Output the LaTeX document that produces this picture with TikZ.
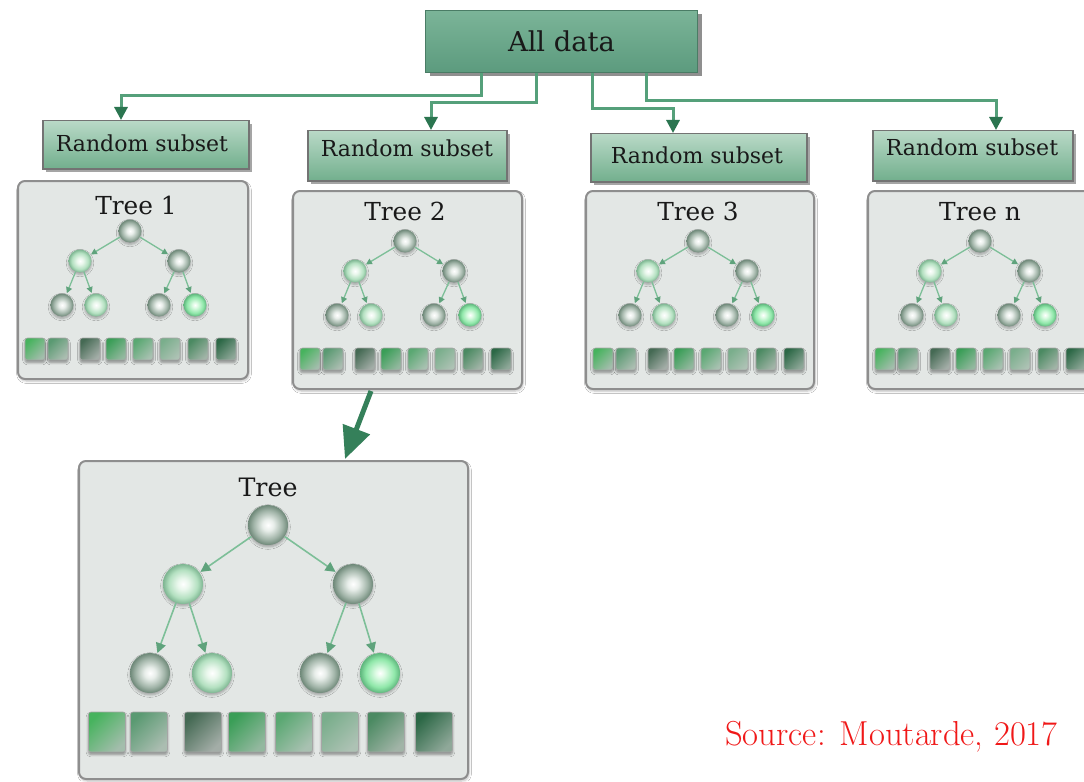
\documentclass[tikz,border=0pt]{standalone}
\usepackage{fontspec}
\newfontfamily\labelfont{DejaVu Serif}
\usetikzlibrary{arrows.meta,calc,shadows,shadows.blur}

\newlength\pxu \setlength\pxu{0.75pt}

% palette
\definecolor{linkgreen}{HTML}{55A07A}
\definecolor{tipgreen}{HTML}{2B7550}
\definecolor{bigarrow}{HTML}{35805A}
\definecolor{edgegreen}{HTML}{7DBF98}
\definecolor{edgetip}{HTML}{5FA37C}
\definecolor{alltop}{HTML}{7BB498}
\definecolor{allbot}{HTML}{5C9B7E}
\definecolor{rstop}{HTML}{B9D9C7}
\definecolor{rsbot}{HTML}{72AF8D}
\definecolor{boxfill}{HTML}{E3E7E5}
\definecolor{boxline}{HTML}{8E8E8E}
\definecolor{srcred}{HTML}{F01818}
% sphere shades
\definecolor{sgA}{HTML}{E8EEEA}
\definecolor{sgB}{HTML}{A2B5A9}
\definecolor{sgC}{HTML}{6E8878}
\definecolor{slA}{HTML}{E9F7EC}
\definecolor{slB}{HTML}{B3E0C0}
\definecolor{slC}{HTML}{7DB591}
\definecolor{sbA}{HTML}{DDFBE4}
\definecolor{sbB}{HTML}{8FE7A9}
\definecolor{sbC}{HTML}{5FB67D}
% leaf squares: top-left / bottom-right
\definecolor{sqa1}{HTML}{47B35E}\definecolor{sqb1}{HTML}{A3BDAC}
\definecolor{sqa2}{HTML}{5A9A72}\definecolor{sqb2}{HTML}{ABBDB1}
\definecolor{sqa3}{HTML}{456A54}\definecolor{sqb3}{HTML}{A3ADA7}
\definecolor{sqa4}{HTML}{3A9E57}\definecolor{sqb4}{HTML}{93B89F}
\definecolor{sqa5}{HTML}{5AA872}\definecolor{sqb5}{HTML}{A8C1B1}
\definecolor{sqa6}{HTML}{7AAE8C}\definecolor{sqb6}{HTML}{ADC2B4}
\definecolor{sqa7}{HTML}{4B8A62}\definecolor{sqb7}{HTML}{A1B4A7}
\definecolor{sqa8}{HTML}{2C6846}\definecolor{sqb8}{HTML}{8FA899}

\pgfdeclareradialshading{graysphere}{\pgfpoint{0bp}{0bp}}{color(0bp)=(white); color(7bp)=(sgA); color(18bp)=(sgB); color(25bp)=(sgC); color(50bp)=(sgC)}
\pgfdeclareradialshading{lightsphere}{\pgfpoint{0bp}{0bp}}{color(0bp)=(white); color(7bp)=(slA); color(18bp)=(slB); color(25bp)=(slC); color(50bp)=(slC)}
\pgfdeclareradialshading{brightsphere}{\pgfpoint{0bp}{0bp}}{color(0bp)=(white); color(6bp)=(sbA); color(18bp)=(sbB); color(25bp)=(sbC); color(50bp)=(sbC)}

\tikzset{
  link/.style={draw=linkgreen, line width=3\pxu,
    -{Triangle[length=9.75pt, width=9.75pt, color=tipgreen]}},
  alldata/.style={rectangle, anchor=north west, top color=alltop, bottom color=allbot,
    draw=allbot!80!black, line width=1\pxu,
    drop shadow={shadow xshift=4\pxu, shadow yshift=-4\pxu, fill=black!55, opacity=0.8},
    font=\labelfont\fontsize{20.5}{24}\selectfont, text=black!90},
  subsetbox/.style={rectangle, anchor=north west, top color=rstop, bottom color=rsbot,
    draw=black!55, line width=1.5\pxu,
    drop shadow={shadow xshift=3\pxu, shadow yshift=-3\pxu, fill=black!50, opacity=0.7}},
  subsettext/.style={font=\labelfont\fontsize{16.5}{19}\selectfont, text=black!90, inner sep=0pt},
  treebox/.style={rectangle, anchor=north west, rounded corners=7\pxu, fill=boxfill,
    draw=boxline, line width=2\pxu,
    blur shadow={shadow xshift=1\pxu, shadow yshift=-2\pxu, shadow opacity=25, shadow blur steps=6}},
  treetitle/.style={font=\labelfont\fontsize{\tFs}{22}\selectfont, text=black!90, inner sep=0pt},
  sphere/.style={circle, inner sep=0pt, minimum size=\tNr\pxu,
    blur shadow={shadow xshift=0pt, shadow yshift=-2\pxu, shadow opacity=30, shadow blur steps=5}},
  gsphere/.style={sphere, shading=graysphere},
  lsphere/.style={sphere, shading=lightsphere},
  bsphere/.style={sphere, shading=brightsphere},
  treeedge/.style={draw=edgegreen, line width=\tEw\pxu, shorten >=1\pxu,
    -{Triangle[length=\tAl, width=\tAl, color=edgetip]}},
  leafsq/.style={rectangle, rounded corners=2.5\pxu, inner sep=0pt, shading angle=45,
    draw=black!35, line width=0.6\pxu,
    blur shadow={shadow xshift=0pt, shadow yshift=-2.5\pxu, shadow opacity=40, shadow blur steps=5}},
  source/.style={font=\fontsize{26}{30}\selectfont, text=srcred, inner sep=0pt}
}

% layouts of a tree panel, offsets from its top-left corner in px
\newcommand\smalltreelayout{%
  \def\tRx{113}\def\tRy{51}%
  \def\tAx{63}\def\tBx{162}\def\tLy{81}%
  \def\tCx{45}\def\tDx{79}\def\tEx{142}\def\tFx{178}\def\tMy{125}%
  \def\tSy{169}\def\tSq{18,41,73,99,126,153,181,209}\def\tSw{20}\def\tSh{22}%
  \def\tNr{23}\def\tEw{1.3}\def\tAl{4.5pt}\def\tFs{18.6}}
\newcommand\bigtreelayout{%
  \def\tRx{190}\def\tRy{65}%
  \def\tAx{105}\def\tBx{275}\def\tLy{124}%
  \def\tCx{72}\def\tDx{134}\def\tEx{242}\def\tFx{302}\def\tMy{213}%
  \def\tSy{272}\def\tSq{29,71,125,169,216,262,308,356}\def\tSw{37}\def\tSh{40}%
  \def\tNr{40}\def\tEw{1.6}\def\tAl{7.5pt}\def\tFs{19}}

% #1 name, #2 left, #3 top, #4 width, #5 height, #6 title, #7/#8 title offset
\newcommand\foresttree[8]{%
  \node[treebox, minimum width=#4\pxu, minimum height=#5\pxu] (#1) at (#2,#3) {};
  \node[treetitle] (#1-title) at ({#2+#7},{#3+#8}) {#6};
  \node[gsphere] (#1-r) at ({#2+\tRx},{#3+\tRy}) {};
  \node[lsphere] (#1-a) at ({#2+\tAx},{#3+\tLy}) {};
  \node[gsphere] (#1-b) at ({#2+\tBx},{#3+\tLy}) {};
  \node[gsphere] (#1-c) at ({#2+\tCx},{#3+\tMy}) {};
  \node[lsphere] (#1-d) at ({#2+\tDx},{#3+\tMy}) {};
  \node[gsphere] (#1-e) at ({#2+\tEx},{#3+\tMy}) {};
  \node[bsphere] (#1-f) at ({#2+\tFx},{#3+\tMy}) {};
  \draw[treeedge] (#1-r) -- (#1-a);
  \draw[treeedge] (#1-r) -- (#1-b);
  \draw[treeedge] (#1-a) -- (#1-c);
  \draw[treeedge] (#1-a) -- (#1-d);
  \draw[treeedge] (#1-b) -- (#1-e);
  \draw[treeedge] (#1-b) -- (#1-f);
  \foreach \sx [count=\i] in \tSq {
    \node[leafsq, minimum width=\tSw\pxu, minimum height=\tSh\pxu,
      top color=sqa\i, bottom color=sqb\i, shading angle=45]
      (#1-s\i) at ({#2+\sx},{#3+\tSy}) {};
  }%
}

\begin{document}
\begin{tikzpicture}[x=1\pxu, y=-1\pxu]
  \useasboundingbox (0,0) rectangle (1084,781);
  \fill[white] (0,0) rectangle (1084,781);

  % root of the ensemble
  \node[alldata, minimum width=272\pxu, minimum height=62\pxu] (all) at (425,10) {All data};

  % bootstrap samples
  \node[subsetbox, minimum width=206\pxu, minimum height=48\pxu] (rs1) at (42,120) {};
  \node[subsetbox, minimum width=199\pxu, minimum height=50\pxu] (rs2) at (307,130) {};
  \node[subsetbox, minimum width=216\pxu, minimum height=48\pxu] (rs3) at (590,133) {};
  \node[subsetbox, minimum width=200\pxu, minimum height=50\pxu] (rs4) at (872,130) {};
  \node[subsettext] (rs1t) at (142,143) {Random subset};
  \node[subsettext] (rs2t) at (407,148) {Random subset};
  \node[subsettext] (rs3t) at (697,155) {Random subset};
  \node[subsettext] (rs4t) at (972,147) {Random subset};

  % branches from the data to each subset
  \draw[link] ($(all.south west)+(56,0)$) -- ++(0,23) -| ($(rs1.north west)+(79,0)$);
  \draw[link] ($(all.south west)+(111,0)$) -- ++(0,30) -| ($(rs2.north west)+(124,0)$);
  \draw[link] ($(all.south west)+(167,0)$) -- ++(0,36) -| ($(rs3.north west)+(83,0)$);
  \draw[link] ($(all.south west)+(221,0)$) -- ++(0,28) -| ($(rs4.north west)+(124,0)$);

  % the trees of the forest
  \smalltreelayout
  \foresttree{t1}{17}{180}{230}{198}{Tree 1}{119}{25}
  \foresttree{t2}{292}{190}{229}{198}{Tree 2}{113}{21}
  \foresttree{t3}{585}{190}{228}{198}{Tree 3}{113}{21}
  \foresttree{tn}{867}{190}{230}{198}{Tree n}{113}{22}

  % one tree in detail
  \bigtreelayout
  \foresttree{tb}{78}{460}{389}{318}{Tree}{190}{27}

  \draw[draw=bigarrow, line width=5\pxu,
    -{Triangle[length=24pt, width=21pt, color=bigarrow]}]
    ($(t2.south west)+(79,1)$) -- ($(tb.north west)+(267,-1)$);

  \node[source, anchor=west] (src) at (725,737) {Source: Moutarde, 2017};
\end{tikzpicture}
\end{document}
